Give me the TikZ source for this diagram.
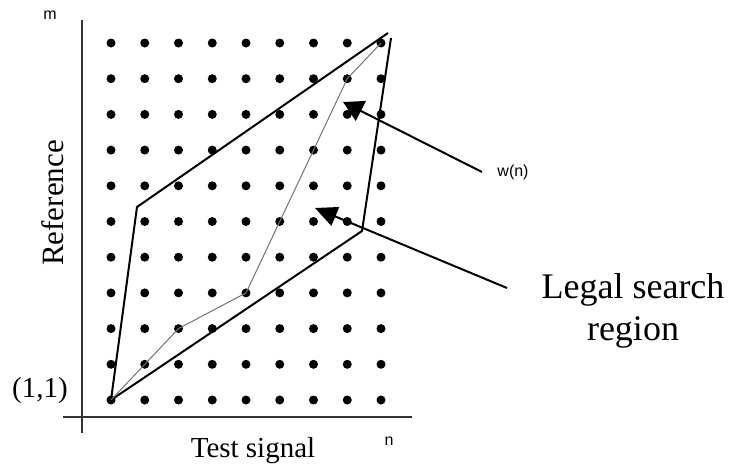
\documentclass[tikz,border=0pt]{standalone}
\usepackage{fontspec}
\setmainfont{Liberation Serif}
\newfontfamily\labsans{Liberation Sans}
\usetikzlibrary{arrows.meta}
\tikzset{
  gdot/.style={fill=black},
  axisline/.style={draw=black!80, line width=1.3pt},
  region/.style={draw=black, line width=2pt, line join=round},
  wpath/.style={draw=black!55, line width=1pt, line join=round},
  pointer/.style={draw=black, line width=2pt},
  serlab/.style={font=\fontsize{29}{34}\selectfont, inner sep=0pt},
  sanslab/.style={font=\labsans\fontsize{16}{19}\selectfont, inner sep=0pt},
}
\begin{document}
\begin{tikzpicture}[x=1pt, y=-1pt]
\useasboundingbox (0,0) rectangle (731,466);
% axes
\coordinate (ytop) at (82,20);
\coordinate (ybot) at (82,433);
\coordinate (xl) at (63,417);
\coordinate (xr) at (412,417);
\draw[axisline] (ytop) -- (ybot);
\draw[axisline] (xl) -- (xr);
% grid coordinates and dots
\foreach \i in {1,...,9}{
  \foreach \j in {1,...,11}{
    \coordinate (g-\i-\j) at ({111+(\i-1)*33.75},{400-(\j-1)*35.7});
    \fill[gdot] (g-\i-\j) circle (4.5);
  }
}
% legal search region
\coordinate (rB) at (137,207);
\coordinate (rC) at (388,33);
\coordinate (rD) at (391,38);
\coordinate (rE) at (362,231);
\draw[region] (g-1-1) -- (rB) -- (rC);
\draw[region] (rD) -- (rE) -- (g-1-1);
% warping path
\draw[wpath] (g-1-1) -- (g-3-3) -- (g-5-4) -- (g-8-10) -- (g-9-11);
% labels
\node[sanslab] (mlab) at (50,15) {m};
\node[sanslab] (nlab) at (389,441) {n};
\node[sanslab] (wlab) at (513,172) {w(n)};
\node[serlab, anchor=base] (tlab) at (253,457) {Test signal};
\node[serlab, font=\fontsize{31}{36}\selectfont, rotate=90] (rlab) at (53,203) {Reference};
\node[serlab] (olab) at (40,391) {(1,1)};
\node[serlab, font=\fontsize{36}{42}\selectfont, align=center] (llab) at (633,311) {Legal search\\region};
% pointers
\coordinate (wt) at (482,172);
\coordinate (wh) at (343,102);
\coordinate (lt) at (507,288);
\coordinate (lh) at (315,208);
\draw[pointer, -{Triangle[length=20pt,width=22pt]}] (wt) -- (wh);
\draw[pointer, -{Triangle[length=22pt,width=20pt]}] (lt) -- (lh);
\end{tikzpicture}
\end{document}
